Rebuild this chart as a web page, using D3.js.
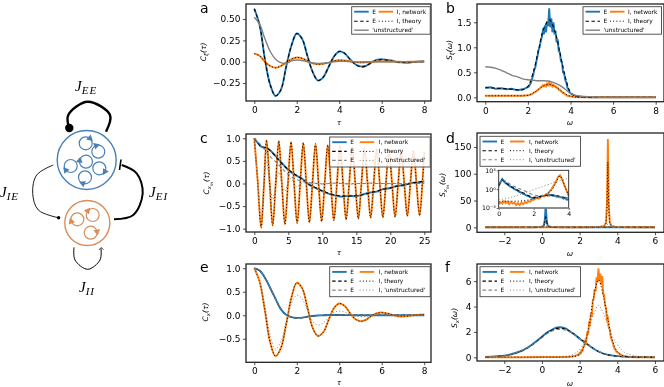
<!DOCTYPE html>
<html>
<head>
<meta charset="utf-8">
<script src="https://cdnjs.cloudflare.com/ajax/libs/d3/7.8.5/d3.min.js"></script>
<style>
  html, body { margin: 0; background: #fff; }
  svg { display: block; font-family: "DejaVu Sans", sans-serif; filter: blur(0.3px); }
  .tick text { fill: #000; }
</style>
</head>
<body>
<div id="chart"></div>
<script>
// ---- panel a ----
const tauA = [0,.25,.5,.75,1,1.25,1.5,1.75,2,2.25,2.5,2.75,3,3.25,3.5,3.75,4,4.25,4.5,4.75,5,5.25,5.5,5.75,6,6.25,6.5,6.75,7,7.25,7.5,7.75,8];
const aETheory = [.62,.43,.03,-.27,-.40,-.33,-.06,.19,.33,.27,.07,-.12,-.22,-.18,-.06,.06,.12,.10,.03,-.03,-.06,-.05,-.015,.015,.025,.02,.005,-.005,-.01,-.008,-.002,0,0];
const aENet = [.62,.43,.03,-.27,-.40,-.33,-.06,.19,.33,.27,.07,-.12,-.22,-.18,-.06,.06,.12,.10,.03,-.03,-.055,-.05,-.01,.02,.03,.02,.012,-.005,-.008,-.012,-.002,.004,.006];
const aITheory = [.095,.07,0,-.05,-.07,-.05,-.01,.03,.05,.04,.012,-.02,-.03,-.025,-.01,.01,.017,.014,.004,-.005,-.009,-.007,-.002,.002,.004,.003,.001,0,-.001,-.001,0,0,0];
const aINet = [.095,.07,0,-.05,-.07,-.05,-.01,.03,.05,.04,.012,-.02,-.03,-.025,-.01,.01,.017,.014,.006,-.005,-.009,-.007,-.002,.003,.004,.003,.002,0,-.002,-.001,0,.001,0];
const aUnstructured = [.52,.44,.27,.12,.03,-.01,-.02,.01,.02,.015,0,-.015,-.02,-.016,-.01,0,.005,.004,.001,-.002,-.002,-.001,0,0,0,0,0,0,0,0,0,0,0];

// ---- panel b ----
const omegaB = [0,.25,.5,.75,1,1.25,1.5,1.75,2,2.25,2.5,2.75,3,3.25,3.5,3.75,4,4.25,4.5,5,5.5,6,6.5,7,7.5,8];
const bETheory = [.19,.19,.18,.175,.17,.16,.15,.15,.22,.5,.95,1.38,1.55,1.35,.9,.42,.1,.02,.01,0,0,0,0,0,0,0];
const bITheory = [.03,.03,.03,.03,.03,.03,.03,.03,.04,.09,.16,.23,.26,.22,.15,.07,.02,.005,0,0,0,0,0,0,0,0];
const bUnstructured = [.61,.6,.58,.54,.49,.44,.41,.37,.35,.34,.33,.33,.32,.29,.24,.16,.08,.04,.02,.01,0,0,0,0,0,0];
const omegaBNet = [0,.25,.5,.75,1,1.25,1.5,1.75,2,2.05,2.1,2.15,2.2,2.25,2.3,2.35,2.4,2.45,2.5,2.55,2.6,2.65,2.7,2.75,2.8,2.85,2.9,2.95,3,3.05,3.1,3.15,3.2,3.25,3.3,3.35,3.4,3.45,3.5,3.55,3.6,3.65,3.7,3.75,3.8,3.85,3.9,3.95,4,4.25,4.5,5,6,7,8];
const bENet = [.19,.2,.17,.18,.16,.17,.14,.16,.2,.22,.26,.3,.38,.44,.55,.6,.72,.82,.95,1,1.12,1.2,1.32,1.26,1.44,1.3,1.52,1.42,1.78,1.4,1.58,1.3,1.5,1.28,1.3,1.1,1.16,.92,.9,.72,.7,.5,.48,.35,.3,.2,.16,.11,.08,.02,.01,0,0,0,0];
const bINet = [.03,.03,.03,.03,.03,.03,.03,.03,.04,.04,.05,.06,.07,.08,.1,.11,.12,.14,.16,.17,.2,.21,.24,.22,.25,.22,.27,.24,.3,.24,.27,.22,.25,.22,.22,.19,.19,.15,.15,.12,.11,.08,.08,.06,.05,.03,.03,.02,.02,.005,0,0,0,0,0];

// ---- panel c ----
const tauC = [0,.5,1,1.4,1.8,2.25,2.7,3.15,3.6,4.05,4.5,4.95,5.4,5.85,6.3,6.75,7.2,7.65,8.1,8.55,9,9.45,9.9,10.35,10.8,11.25,11.7,12.15,12.6,13.05,13.5,13.95,14.4,14.85,15.3,15.75,16.2,16.65,17.1,17.55,18,18.45,18.9,19.35,19.8,20.25,20.7,21.15,21.6,22.05,22.5,22.95,23.4,23.85,24.3,24.75,25];
const cITheory = [1,.05,-.98,-.1,.96,.03,-.93,0,.94,0,-.9,0,.92,0,-.88,0,.9,0,-.86,0,.88,0,-.84,0,.85,0,-.82,0,.83,0,-.8,0,.8,0,-.78,0,.78,0,-.76,0,.76,0,-.75,0,.75,0,-.74,0,.73,0,-.72,0,.72,0,-.71,.1,.7];
const tauCSlow = [0,.5,1,1.5,2,3,4,5,6,7,8,9,10,11,12,13,14,15,16,17,18,19,20,21,22,23,24,25];
const cETheory = [1,.9,.82,.8,.77,.62,.45,.31,.2,.1,-.02,-.09,-.16,-.22,-.26,-.28,-.28,-.27,-.25,-.21,-.17,-.13,-.1,-.06,-.03,0,.03,.05];
const cENet = [1,.9,.82,.79,.77,.63,.46,.3,.19,.11,-.02,-.1,-.17,-.23,-.27,-.29,-.27,-.28,-.24,-.2,-.18,-.12,-.1,-.05,-.04,.01,.02,.05];
const cEUnstr = [1,.92,.85,.75,.65,.5,.35,.2,.1,.05,.02,0,-.01,0,.01,0,-.01,0,0,.01,0,0,0,0,0,0,0,0];
const tauCUn = [0,.5,1,1.4,1.8,2.25,2.7,3.15,3.6,4.05,4.5,4.95,5.4,5.85,6.3,7,8,10,15,20,25];
const cIUnstr = [1,.1,-.75,-.05,.5,.03,-.35,0,.25,0,-.17,0,.11,0,-.07,0,.02,0,0,0,0];

// ---- panel d ----
const omegaD = [-3,-2,-1,-.5,-.2,0,.1,.15,.2,.25,.3,.4,.6,1,2,3,3.3,3.4,3.45,3.5,3.55,3.6,3.7,4,5,6];
const dENet = [0,0,.05,.1,.4,1,3,14,42,14,3,1,.4,.1,.05,.03,.02,.01,.01,.01,.01,.01,0,0,0,0];
const dETheory = [0,0,.05,.1,.4,1,3,9,20,9,3,1,.4,.1,.03,.02,.01,.01,0,0,0,0,0,0,0,0];
const dEUnstr = [.2,.2,.3,.5,1,2,4,7,10,7,4,2,1,.4,.2,.2,.2,.2,.2,.2,.2,.2,.2,.2,.2,.2];
const dINet = [0,0,0,0,0,0,0,0,0,0,0,0,0,0,.05,.5,2,9,45,165,45,9,2,.3,0,0];
const dITheory = [0,0,0,0,0,0,0,0,0,0,0,0,0,0,.05,.5,2,7,30,122,30,7,2,.3,0,0];
const dIUnstr = [.1,.1,.1,.1,.1,.1,.1,.1,.1,.1,.1,.1,.2,.3,.6,1.5,3,4,5,5.5,5,4,3,1.2,.2,.1];

// inset of panel d
const omegaIn = [0,.1,.2,.3,.4,.5,.6,.7,.8,.9,1,1.1,1.2,1.3,1.4,1.5,1.6,1.7,1.8,1.9,2,2.1,2.2,2.3,2.4,2.5,2.6,2.7,2.8,2.9,3,3.1,3.2,3.3,3.4,3.5,3.6,3.7,3.8,3.9,4];
const inENet = [3,12,40,18,9,6,3.5,2.2,1.8,1,.8,.5,.35,.28,.18,.14,.09,.08,.05,.045,.03,.04,.05,.05,.07,.09,.08,.13,.1,.13,.11,.09,.1,.06,.07,.05,.05,.03,.04,.02,.03];
const inINet = [.004,.008,.005,.012,.006,.01,.004,.009,.005,.007,.003,.006,.003,.007,.004,.009,.006,.012,.01,.02,.02,.03,.04,.03,.06,.08,.07,.15,.18,.4,.8,2.5,7,25,90,160,50,10,2,.4,.08];
const omegaInTh = [0,.2,.4,.7,1,1.5,2,2.5,3,3.2,3.35,3.5,3.65,3.8,4];
const inETheory = [4,30,10,2.5,.9,.18,.05,.08,.12,.11,.09,.07,.06,.04,.03];
const inITheory = [.01,.012,.012,.012,.012,.015,.03,.07,.6,4,30,130,25,2,.09];
const inEUnstr = [6,30,18,5,2,.5,.12,.08,.08,.07,.07,.06,.06,.05,.04];
const inIUnstr = [.02,.025,.03,.05,.09,.25,.8,2.5,8,14,18,22,28,40,60];

// ---- panel e ----
const tauE = [0,.25,.5,.75,1,1.25,1.5,1.75,2,2.25,2.5,2.75,3,3.25,3.5,3.75,4,4.25,4.5,4.75,5,5.25,5.5,5.75,6,6.25,6.5,6.75,7,7.25,7.5,7.75,8];
const eETheory = [1,.95,.8,.58,.35,.13,.01,-.04,-.055,-.05,-.03,-.015,-.005,0,.005,.005,.005,.003,.002,0,0,0,0,0,0,0,0,0,0,0,0,0,0];
const eITheory = [1,.72,.1,-.58,-.87,-.7,-.2,.38,.69,.58,.17,-.27,-.44,-.36,-.1,.15,.25,.2,.05,-.08,-.13,-.1,-.02,.04,.055,.04,.01,-.015,-.02,-.015,0,.008,.01];
const eINet = [1,.72,.1,-.58,-.87,-.7,-.2,.38,.69,.58,.17,-.27,-.44,-.36,-.1,.15,.25,.2,.05,-.08,-.125,-.1,-.02,.04,.06,.04,.01,-.02,-.025,-.015,0,.012,.015];
const eIUnstr = [1,.74,.2,-.42,-.72,-.56,-.15,.25,.43,.35,.1,-.13,-.21,-.16,-.05,.06,.09,.07,.02,-.02,-.03,-.02,-.005,.005,.01,.005,0,0,0,0,0,0,0];

// ---- panel f ----
const omegaF = [-3,-2.5,-2,-1.5,-1,-.5,0,.25,.5,.75,1,1.25,1.5,1.75,2,2.5,3,3.5,4,4.5,5,6];
const fETheory = [.03,.06,.13,.28,.55,1,1.6,1.9,2.12,2.26,2.3,2.22,2.05,1.75,1.5,.95,.45,.2,.09,.04,.02,.01];
const fENet = [.03,.07,.12,.3,.57,1.03,1.62,1.93,2.15,2.33,2.37,2.28,2.02,1.78,1.47,.93,.46,.19,.09,.04,.02,.01];
const fEUnstr = [.03,.07,.14,.3,.58,1,1.55,1.85,2.05,2.18,2.2,2.14,2,1.75,1.48,.95,.47,.22,.1,.05,.02,.01];
const omegaFI = [-3,-1,0,1,1.5,1.75,2,2.25,2.5,2.75,3,3.25,3.5,3.75,4,4.25,4.5,5,6];
const fITheory = [0,0,.01,.02,.04,.08,.25,.9,2.5,4.8,6.1,4.9,3,1.3,.45,.15,.05,.01,0];
const fIUnstr = [0,.01,.02,.06,.15,.3,.6,1.2,2.3,3.4,4.1,3.5,2.5,1.6,1,.55,.3,.1,.02];
const omegaFNet = [-3,-1,0,1,1.5,1.75,1.9,1.95,2,2.05,2.1,2.15,2.2,2.25,2.3,2.35,2.4,2.45,2.5,2.55,2.6,2.65,2.7,2.75,2.8,2.85,2.9,2.95,3,3.05,3.1,3.15,3.2,3.25,3.3,3.35,3.4,3.45,3.5,3.55,3.6,3.65,3.7,3.75,3.8,3.85,3.9,3.95,4,4.25,4.5,5,6];
const fINet = [0,0,.02,.03,.05,.1,.2,.18,.35,.3,.55,.5,.85,.9,1.3,1.2,2,1.8,2.7,2.6,3.5,3.2,4.5,4.6,5.4,5.2,6.3,5.9,7,6,6.6,5.7,6.4,5,4.9,4.1,3.9,3,3.1,2.3,2.2,1.6,1.4,1.2,.9,.7,.6,.45,.4,.14,.05,.01,0];

// tick labels
const ticksA = { x: [0,2,4,6,8], y: [-.25,0,.25,.5] };
const ticksB = { x: [0,2,4,6,8], y: [0,.5,1,1.5] };
const ticksC = { x: [0,5,10,15,20,25], y: [-1,-.5,0,.5,1] };
const ticksD = { x: [-2,0,2,4,6], y: [0,50,100,150] };
const ticksE = { x: [0,2,4,6,8], y: [-.5,0,.5,1] };
const ticksF = { x: [-2,0,2,4,6], y: [0,2,4,6] };

const BLUE = "#1f77b4", ORANGE = "#ff7f0e", GRAY = "#808080";
const DASH = "3.4,2.6", DOT = "1,2.2";
const net = (color) => ({ stroke: color, width: 1.9 });
const dashed = (color) => ({ stroke: color, width: 1.1, dash: DASH });
const dotted = (color) => ({ stroke: color, width: 1, dash: DOT });

const svg = d3.select("#chart").append("svg").attr("width", 664).attr("height", 387);
let clipCount = 0;

function drawLines(g, x, y, series) {
  const id = `clip${clipCount++}`;
  g.append("clipPath").attr("id", id).append("rect")
    .attr("x", x.range()[0]).attr("y", y.range()[1])
    .attr("width", x.range()[1] - x.range()[0])
    .attr("height", y.range()[0] - y.range()[1]);
  const lines = g.append("g").attr("clip-path", `url(#${id})`);
  series.forEach((s) => {
    const line = d3.line()
      .x((d) => x(d[0]))
      .y((d) => y(d[1]))
      .curve(s.curve || d3.curveCatmullRom);
    lines.append("path")
      .attr("d", line(d3.zip(s.x, s.y)))
      .attr("fill", "none")
      .attr("stroke", s.stroke)
      .attr("stroke-width", s.width)
      .attr("stroke-dasharray", s.dash || null);
  });
}

function label(g, parts, fontSize) {
  // parts: [text, "sub" | "subsub" | undefined]
  parts.forEach(([t, kind], i) => {
    const prev = i ? parts[i - 1][1] : null;
    const level = { sub: 1, subsub: 2 };
    const shift = (level[kind] || 0) - (level[prev] || 0);
    g.append("tspan")
      .attr("dy", `${shift * fontSize * 0.28}`)
      .attr("font-size", fontSize * (kind === "subsub" ? 0.55 : kind === "sub" ? 0.72 : 1))
      .text(t);
  });
}

function panel(o) {
  const g = svg.append("g");
  const x = d3.scaleLinear().domain(o.xDomain).range([o.left, o.right]);
  const y = d3.scaleLinear().domain(o.yDomain).range([o.bottom, o.top]);

  drawLines(g, x, y, o.series);

  const ax = g.append("g").attr("transform", `translate(0,${o.bottom})`)
    .call(d3.axisBottom(x).tickValues(o.ticks.x).tickFormat(d3.format("d")).tickSize(3).tickPadding(2.5));
  const ay = g.append("g").attr("transform", `translate(${o.left},0)`)
    .call(d3.axisLeft(y).tickValues(o.ticks.y).tickFormat(d3.format(o.yFormat)).tickSize(3).tickPadding(2.5));
  [ax, ay].forEach((a) => {
    a.attr("font-size", 9).attr("font-family", null);
    a.select(".domain").remove();
    a.selectAll(".tick line").attr("stroke", "#000").attr("stroke-width", .7);
  });

  g.append("rect")
    .attr("x", o.left).attr("y", o.top)
    .attr("width", o.right - o.left).attr("height", o.bottom - o.top)
    .attr("fill", "none").attr("stroke", "#222").attr("stroke-width", 1.3);

  if (o.inset) o.inset(g);
  legend(g, o.legend);

  g.append("text").attr("x", o.letter[0]).attr("y", o.letter[1])
    .attr("font-size", 14).text(o.letterText);

  const xl = g.append("text").attr("x", o.xLabel[0]).attr("y", o.xLabel[1])
    .attr("text-anchor", "middle").attr("font-style", "italic").attr("font-size", 7.5);
  label(xl, [[o.xLabel[2]]], 7.5);
  const yl = g.append("text")
    .attr("transform", `translate(${o.yLabel[0]},${o.yLabel[1]}) rotate(-90)`)
    .attr("text-anchor", "middle").attr("font-style", "italic").attr("font-size", 7.5);
  label(yl, o.yLabel[2], 7.5);
}

function legend(g, l) {
  g.append("rect").attr("x", l.x).attr("y", l.y).attr("width", l.w).attr("height", l.h)
    .attr("fill", "#fff").attr("fill-opacity", .85).attr("stroke", "#444").attr("stroke-width", .9);
  l.rows.forEach((row, i) => {
    const yy = l.y + l.rowY[i];
    row.forEach((c) => {
      if (c.stroke) {
        g.append("line").attr("x1", l.x + c.at).attr("x2", l.x + c.at + 14.5)
          .attr("y1", yy).attr("y2", yy)
          .attr("stroke", c.stroke).attr("stroke-width", c.width)
          .attr("stroke-dasharray", c.dash || null);
      } else {
        g.append("text").attr("x", l.x + c.at).attr("y", yy + 2)
          .attr("font-size", 5.9).text(c.text);
      }
    });
  });
}

const legendThree = (x, y) => ({
  x, y, w: 78.5, h: 27.5, rowY: [5, 14.5, 23.5],
  rows: [
    [{ ...net(BLUE), at: 2.5 }, { text: "E", at: 20.5 }, { ...net(ORANGE), at: 27 }, { text: "I, network", at: 45 }],
    [{ ...dashed("#000"), at: 2.5 }, { text: "E", at: 20.5 }, { ...dotted("#000"), at: 27 }, { text: "I, theory", at: 45 }],
    [{ stroke: GRAY, width: 1.4, at: 2.5 }, { text: "'unstructured'", at: 20.5 }],
  ],
});
const legendFour = (x, y) => ({
  x, y, w: 100.5, h: 30, rowY: [5.2, 14.4, 23.4],
  rows: [
    [{ ...net(BLUE), at: 2.5 }, { text: "E", at: 20.5 }, { ...net(ORANGE), at: 30 }, { text: "I, network", at: 49 }],
    [{ ...dashed("#000"), at: 2.5 }, { text: "E", at: 20.5 }, { ...dotted("#000"), at: 30 }, { text: "I, theory", at: 49 }],
    [{ ...dashed(GRAY), at: 2.5 }, { text: "E", at: 20.5 }, { ...dotted(GRAY), at: 30 }, { text: "I, 'unstructured'", at: 49 }],
  ],
});

panel({
  left: 246, right: 431, top: 4, bottom: 101,
  xDomain: [-.39, 8.32], yDomain: [-.46, .676], ticks: ticksA, yFormat: ".2f",
  letter: [200, 13], letterText: "a",
  xLabel: [339, 125, "τ"], yLabel: [206, 52, [["C"], ["ξ", "sub"], ["(τ)"]]],
  legend: legendThree(351.7, 6.7),
  series: [
    { x: tauA, y: aENet, ...net(BLUE) },
    { x: tauA, y: aINet, ...net(ORANGE) },
    { x: tauA, y: aETheory, ...dashed("#000") },
    { x: tauA, y: aITheory, ...dotted("#000") },
    { x: tauA, y: aUnstructured, stroke: GRAY, width: 1.4 },
  ],
});

panel({
  left: 477, right: 664, top: 4, bottom: 101.7,
  xDomain: [-.39, 8.39], yDomain: [-.088, 1.866], ticks: ticksB, yFormat: ".1f",
  letter: [446, 13], letterText: "b",
  xLabel: [570, 125, "ω"], yLabel: [452, 50, [["S"], ["ξ", "sub"], ["(ω)"]]],
  legend: legendThree(583, 6.7),
  series: [
    { x: omegaBNet, y: bENet, ...net(BLUE), curve: d3.curveLinear },
    { x: omegaBNet, y: bINet, ...net(ORANGE), curve: d3.curveLinear },
    { x: omegaB, y: bETheory, ...dashed("#000") },
    { x: omegaB, y: bITheory, ...dotted("#000") },
    { x: omegaB, y: bUnstructured, stroke: GRAY, width: 1.4 },
  ],
});

panel({
  left: 246, right: 431, top: 134, bottom: 232,
  xDomain: [-1.22, 25.98], yDomain: [-1.073, 1.095], ticks: ticksC, yFormat: ".1f",
  letter: [200, 143], letterText: "c",
  xLabel: [339, 255, "τ"], yLabel: [209, 183, [["C"], ["x", "sub"], ["m", "subsub"], ["(τ)"]]],
  legend: legendFour(329.7, 137),
  series: [
    { x: tauCSlow, y: cENet, ...net(BLUE) },
    { x: tauC, y: cITheory, ...net(ORANGE) },
    { x: tauCSlow, y: cETheory, ...dashed("#000") },
    { x: tauC, y: cITheory, ...dotted("#000") },
    { x: tauCSlow, y: cEUnstr, ...dashed(GRAY) },
    { x: tauCUn, y: cIUnstr, ...dotted(GRAY) },
  ],
});

function insetD(g) {
  const left = 498.7, right = 568.7, top = 170.3, bottom = 208;
  const x = d3.scaleLinear().domain([0, 4]).range([left, right]);
  const y = d3.scaleLog().domain([1e-3, 1e3]).range([bottom, top]);
  g.append("rect").attr("x", left).attr("y", top).attr("width", right - left).attr("height", bottom - top).attr("fill", "#fff");
  drawLines(g, x, y, [
    { x: omegaIn, y: inENet, ...net(BLUE), curve: d3.curveLinear },
    { x: omegaIn, y: inINet, ...net(ORANGE), curve: d3.curveLinear },
    { x: omegaInTh, y: inETheory, ...dashed("#000") },
    { x: omegaInTh, y: inITheory, ...dotted("#000") },
    { x: omegaInTh, y: inEUnstr, ...dashed(GRAY) },
    { x: omegaInTh, y: inIUnstr, ...dotted(GRAY) },
  ]);
  const ax = g.append("g").attr("transform", `translate(0,${bottom})`)
    .call(d3.axisBottom(x).tickValues([0, 2, 4]).tickFormat(d3.format("d")).tickSize(2).tickPadding(1.5));
  const ay = g.append("g").attr("transform", `translate(${left},0)`)
    .call(d3.axisLeft(y).tickValues([1e-3, 1, 1e3]).tickFormat((d) => ({ 0.001: "10⁻³", 1: "10⁰", 1000: "10³" }[d])).tickSize(2).tickPadding(1));
  [ax, ay].forEach((a) => {
    a.attr("font-size", 6.2).attr("font-family", null);
    a.select(".domain").remove();
    a.selectAll(".tick line").attr("stroke", "#000").attr("stroke-width", .6);
  });
  g.append("rect").attr("x", left).attr("y", top).attr("width", right - left).attr("height", bottom - top)
    .attr("fill", "none").attr("stroke", "#222").attr("stroke-width", .9);
  g.append("line").attr("x1", left).attr("x2", right).attr("y1", bottom).attr("y2", bottom)
    .attr("stroke", "#888").attr("stroke-width", 1.6);
}

panel({
  left: 477, right: 664, top: 133, bottom: 232.3,
  xDomain: [-3.45, 6.48], yDomain: [-9.3, 176], ticks: ticksD, yFormat: "d",
  letter: [446, 143], letterText: "d",
  xLabel: [570, 256, "ω"], yLabel: [445, 185, [["S"], ["x", "sub"], ["m", "subsub"], ["(ω)"]]],
  legend: legendFour(480, 136.3),
  inset: insetD,
  series: [
    { x: omegaD, y: dENet, ...net(BLUE), curve: d3.curveLinear },
    { x: omegaD, y: dINet, ...net(ORANGE), curve: d3.curveLinear },
    { x: omegaD, y: dETheory, ...dashed("#000"), curve: d3.curveLinear },
    { x: omegaD, y: dITheory, ...dotted("#000"), curve: d3.curveLinear },
    { x: omegaD, y: dEUnstr, ...dashed(GRAY), curve: d3.curveLinear },
    { x: omegaD, y: dIUnstr, ...dotted(GRAY), curve: d3.curveLinear },
  ],
});

panel({
  left: 246, right: 431, top: 264, bottom: 362.3,
  xDomain: [-.39, 8.32], yDomain: [-1, 1.09], ticks: ticksE, yFormat: ".1f",
  letter: [200, 272], letterText: "e",
  xLabel: [339, 385, "τ"], yLabel: [208, 312, [["C"], ["x", "sub"], ["(τ)"]]],
  legend: legendFour(329.7, 266.7),
  series: [
    { x: tauE, y: eETheory, ...net(BLUE) },
    { x: tauE, y: eINet, ...net(ORANGE) },
    { x: tauE, y: eETheory, ...dashed("#000") },
    { x: tauE, y: eITheory, ...dotted("#000") },
    { x: tauE, y: eETheory, ...dashed(GRAY) },
    { x: tauE, y: eIUnstr, ...dotted(GRAY) },
  ],
});

panel({
  left: 477, right: 664, top: 264, bottom: 361,
  xDomain: [-3.45, 6.48], yDomain: [-.29, 7.35], ticks: ticksF, yFormat: "d",
  letter: [445, 272], letterText: "f",
  xLabel: [570, 386, "ω"], yLabel: [457, 318, [["S"], ["x", "sub"], ["(ω)"]]],
  legend: legendFour(480, 266.7),
  series: [
    { x: omegaF, y: fENet, ...net(BLUE) },
    { x: omegaFNet, y: fINet, ...net(ORANGE), curve: d3.curveLinear },
    { x: omegaF, y: fETheory, ...dashed("#000") },
    { x: omegaFI, y: fITheory, ...dotted("#000") },
    { x: omegaF, y: fEUnstr, ...dashed(GRAY) },
    { x: omegaFI, y: fIUnstr, ...dotted(GRAY) },
  ],
});

// ---- network schematic on the left ----
const schematic = svg.append("g");
const loopLine = d3.line().curve(d3.curveCatmullRom);
const loops = [
  { pts: [[106,131.7],[110,115],[87.7,101.7],[68.3,115],[69,127.7]], width: 2.4 },
  { pts: [[114,219.3],[133.3,215],[142.7,193.3],[136.7,173.3],[121.7,165]], width: 2 },
  { pts: [[53.3,165],[36.7,175],[32.7,193.3],[38.3,210],[58.3,217.7]], width: .9 },
  { pts: [[74,247.3],[75,260],[87.7,269.3],[100,260],[101,248.3]], width: 1 },
];
schematic.selectAll(".loop").data(loops).join("path")
  .attr("class", "loop").attr("d", (d) => loopLine(d.pts))
  .attr("fill", "none").attr("stroke", "#000").attr("stroke-width", (d) => d.width);
schematic.append("circle").attr("cx", 69.3).attr("cy", 128).attr("r", 4.2);
schematic.append("circle").attr("cx", 58.6).attr("cy", 217.8).attr("r", 1.7);
schematic.append("line").attr("x1", 121).attr("y1", 159.5).attr("x2", 119.5).attr("y2", 170)
  .attr("stroke", "#000").attr("stroke-width", 1.6);
schematic.append("path").attr("d", "M99,250L101,247.5L103.5,249.5")
  .attr("fill", "none").attr("stroke", "#000").attr("stroke-width", .7);

const EC = "#4a80b5", IC = "#d98d58";
const pools = [
  { cx: 86.7, cy: 160, r: 29.5, color: EC },
  { cx: 87.3, cy: 223, r: 22.5, color: IC },
];
schematic.selectAll(".pool").data(pools).join("circle")
  .attr("class", "pool").attr("cx", (d) => d.cx).attr("cy", (d) => d.cy).attr("r", (d) => d.r)
  .attr("fill", "none").attr("stroke", (d) => d.color).attr("stroke-width", 1.4);

// small recurrent rings: centre, radius, arrow angle
const rings = [
  { cx: 85.7, cy: 143.3, a: 40, color: EC }, { cx: 98.3, cy: 151.7, a: -20, color: EC },
  { cx: 86, cy: 161.7, a: -80, color: EC }, { cx: 70.7, cy: 166, a: -130, color: EC },
  { cx: 99.3, cy: 168.3, a: 120, color: EC }, { cx: 85, cy: 177.3, a: -160, color: EC },
  { cx: 77.3, cy: 219.3, a: -110, color: IC }, { cx: 92.7, cy: 215, a: -50, color: IC },
  { cx: 90.7, cy: 232.7, a: 80, color: IC },
];
const rad = Math.PI / 180;
schematic.selectAll(".ring").data(rings).join("circle")
  .attr("class", "ring").attr("cx", (d) => d.cx).attr("cy", (d) => d.cy).attr("r", 6.5)
  .attr("fill", "none").attr("stroke", (d) => d.color).attr("stroke-width", 1.2);
schematic.selectAll(".head").data(rings).join("path")
  .attr("class", "head").attr("d", d3.symbol(d3.symbolTriangle, 20))
  .attr("fill", (d) => d.color)
  .attr("transform", (d) => `translate(${d.cx + 6.5 * Math.sin(d.a * rad)},${d.cy - 6.5 * Math.cos(d.a * rad)}) rotate(${d.a + 90})`);

const coupling = [
  { x: 75, y: 91, sub: "EE" }, { x: 0, y: 197, sub: "IE" },
  { x: 149, y: 197, sub: "EI" }, { x: 79, y: 292, sub: "II" },
];
coupling.forEach((c) => {
  const t = schematic.append("text").attr("x", c.x).attr("y", c.y)
    .attr("font-family", "'Liberation Serif', serif").attr("font-style", "italic").attr("font-size", 15);
  t.append("tspan").text("J");
  t.append("tspan").attr("font-size", 11).attr("dy", 3).attr("letter-spacing", 1).text(c.sub);
});
</script>
</body>
</html>
